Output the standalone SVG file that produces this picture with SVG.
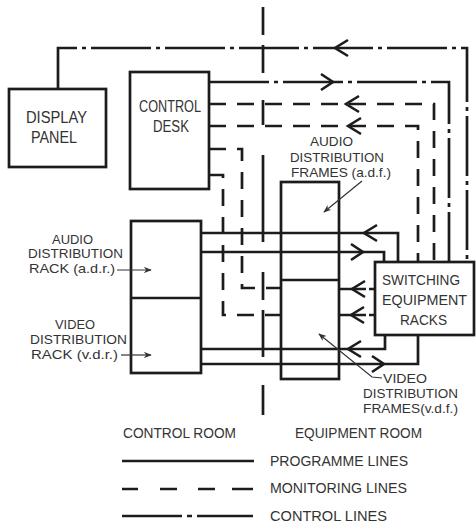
<svg xmlns="http://www.w3.org/2000/svg" width="476" height="525" viewBox="0 0 476 525">
<style>
.ln{fill:none;stroke:#1c1c1c;stroke-width:2.7;stroke-linejoin:miter}
.m{stroke-dasharray:17 11}
.c{stroke-dasharray:60 5 4 5}
.bx{fill:none;stroke:#1c1c1c;stroke-width:2.7}
.ar{fill:none;stroke:#1c1c1c;stroke-width:2.6;stroke-linejoin:miter}
.ld{fill:none;stroke:#333;stroke-width:1.2}
.t{font-family:"Liberation Sans",Arial,sans-serif;font-size:14px;fill:#333}
.ts{font-size:13px}
.tb{font-size:16px}
</style>
<defs>
<marker id="sa" viewBox="0 0 10 8" refX="9" refY="4" markerWidth="8" markerHeight="6.4" markerUnits="userSpaceOnUse" orient="auto">
<path d="M0,0 L10,4 L0,8 L3,4 z" fill="#333"/>
</marker>
</defs>

<g id="divider">
<path class="ln" d="M263,7 V35 M263,45 V73 M263,100 V125 M263,155 V242 M263,272 V300 M263,310 V357 M263,385 V415" stroke-width="2.4"/>
</g>

<g id="connectors">
<!-- control lines -->
<path class="ln c" d="M58,89 V48 H467 V262"/>
<polyline class="ar" points="348,40 335,48 348,56"/>
<path class="ln c" d="M209,82 H449 V262"/>
<polyline class="ar" points="321,74 333,82 321,90"/>
<!-- monitoring lines -->
<path class="ln m" d="M209,104 H434 V262"/>
<polyline class="ar" points="359,96 346,104 359,112"/>
<path class="ln m" d="M209,126 H418 V262"/>
<polyline class="ar" points="361,118 348,126 361,134"/>
<path class="ln m" d="M209,149 H242 V288 H281"/>
<path class="ln m" d="M209,175 H223 V315 H281"/>
<path class="ln" d="M375,289 H339" stroke-dasharray="6 3 40"/>
<polyline class="ar" points="365,281 352,289 365,297"/>
<path class="ln" d="M375,315 H339" stroke-dasharray="6 3 40"/>
<polyline class="ar" points="364,307 351,315 364,323"/>
<!-- programme lines -->
<path class="ln" d="M201,233 H398 V262"/>
<polyline class="ar" points="377,225 364,233 377,241"/>
<path class="ln" d="M201,252 H384 V262"/>
<polyline class="ar" points="351,244 363,252 351,260"/>
<path class="ln" d="M201,349 H385 V335"/>
<polyline class="ar" points="361,341 348,349 361,357"/>
<path class="ln" d="M201,364 H418 V335"/>
<polyline class="ar" points="372,356 384,364 372,372"/>
</g>

<g id="display-panel">
<rect class="bx" x="9" y="89" width="97" height="78"/>
<text class="t tb" x="26" y="123" textLength="61" lengthAdjust="spacingAndGlyphs">DISPLAY</text>
<text class="t tb" x="31" y="143" textLength="46" lengthAdjust="spacingAndGlyphs">PANEL</text>
</g>

<g id="control-desk">
<rect class="bx" x="130" y="72" width="79" height="117"/>
<text class="t tb" x="139" y="112" textLength="62" lengthAdjust="spacingAndGlyphs">CONTROL</text>
<text class="t tb" x="153" y="132" textLength="36" lengthAdjust="spacingAndGlyphs">DESK</text>
</g>

<g id="distribution-racks">
<rect class="bx" x="131" y="221" width="70" height="152"/>
<line class="bx" x1="131" y1="298" x2="201" y2="298"/>
<text class="t ts" x="52" y="244" textLength="41" lengthAdjust="spacingAndGlyphs">AUDIO</text>
<text class="t ts" x="28" y="258" textLength="95" lengthAdjust="spacingAndGlyphs">DISTRIBUTION</text>
<text class="t ts" x="29" y="273" textLength="86" lengthAdjust="spacingAndGlyphs">RACK (a.d.r.)</text>
<line class="ld" x1="117" y1="270" x2="151" y2="270" marker-end="url(#sa)"/>
<text class="t ts" x="55" y="329" textLength="40" lengthAdjust="spacingAndGlyphs">VIDEO</text>
<text class="t ts" x="30" y="344" textLength="97" lengthAdjust="spacingAndGlyphs">DISTRIBUTION</text>
<text class="t ts" x="31" y="359" textLength="87" lengthAdjust="spacingAndGlyphs">RACK (v.d.r.)</text>
<line class="ld" x1="121" y1="355" x2="151" y2="355" marker-end="url(#sa)"/>
</g>

<g id="distribution-frames">
<rect class="bx" x="281" y="182" width="58" height="197"/>
<line class="bx" x1="281" y1="280" x2="339" y2="280"/>
<text class="t ts" x="310" y="146" textLength="43" lengthAdjust="spacingAndGlyphs">AUDIO</text>
<text class="t ts" x="290" y="162" textLength="94" lengthAdjust="spacingAndGlyphs">DISTRIBUTION</text>
<text class="t ts" x="291" y="177" textLength="100" lengthAdjust="spacingAndGlyphs">FRAMES (a.d.f.)</text>
<line class="ld" x1="362" y1="181" x2="324" y2="212" marker-end="url(#sa)"/>
<text class="t ts" x="383" y="383" textLength="44" lengthAdjust="spacingAndGlyphs">VIDEO</text>
<text class="t ts" x="363" y="398" textLength="95" lengthAdjust="spacingAndGlyphs">DISTRIBUTION</text>
<text class="t ts" x="363" y="413" textLength="95" lengthAdjust="spacingAndGlyphs">FRAMES(v.d.f.)</text>
<polyline class="ld" points="382,378 372,377 319,334" marker-end="url(#sa)"/>
</g>

<g id="switching-racks">
<rect class="bx" x="375" y="262" width="99" height="73"/>
<text class="t" x="382" y="285" textLength="78" lengthAdjust="spacingAndGlyphs">SWITCHING</text>
<text class="t" x="382" y="305" textLength="85" lengthAdjust="spacingAndGlyphs">EQUIPMENT</text>
<text class="t" x="400" y="325" textLength="47" lengthAdjust="spacingAndGlyphs">RACKS</text>
</g>

<g id="legend">
<text class="t" x="123" y="438" textLength="113" lengthAdjust="spacingAndGlyphs">CONTROL ROOM</text>
<text class="t" x="295" y="438" textLength="127" lengthAdjust="spacingAndGlyphs">EQUIPMENT ROOM</text>
<path class="ln" d="M122,461 H254"/>
<text class="t" x="270" y="466" textLength="138" lengthAdjust="spacingAndGlyphs">PROGRAMME LINES</text>
<path class="ln" d="M122,489 H138 M160,489 H177 M198,489 H215 M232,489 H253"/>
<text class="t" x="270" y="493" textLength="137" lengthAdjust="spacingAndGlyphs">MONITORING LINES</text>
<path class="ln" d="M122,516 H182 M187,516 H192 M197,516 H253"/>
<text class="t" x="270" y="521" textLength="117" lengthAdjust="spacingAndGlyphs">CONTROL LINES</text>
</g>
</svg>
